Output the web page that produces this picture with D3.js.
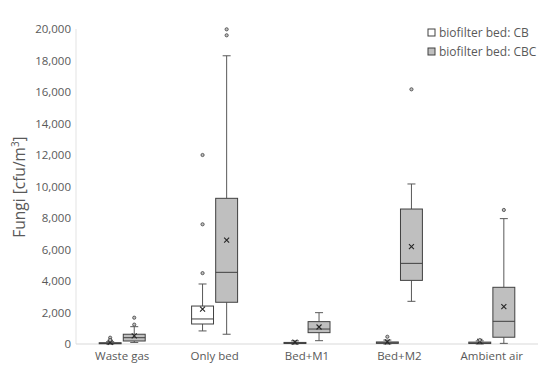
<!DOCTYPE html>
<html lang="en">
<head>
<meta charset="utf-8">
<title>Fungi</title>
<script src="https://d3js.org/d3.v7.min.js"></script>
<style>
 body { margin: 0; background: #fff; }
 text { font-family: "Open Sans", sans-serif; fill: #595959; }
</style>
</head>
<body>
<script>
// Categories and series
const categories = ['Waste gas', 'Only bed', 'Bed+M1', 'Bed+M2', 'Ambient air'];
const series = ['biofilter bed: CB', 'biofilter bed: CBC'];
const yTicks = d3.range(0, 20001, 2000);

// CB box stats
const cbMin = [0, 830, 0, 0, 0];
const cbQ1 = [20, 1270, 30, 40, 30];
const cbMed = [50, 1590, 60, 80, 70];
const cbQ3 = [80, 2410, 100, 130, 120];
const cbMax = [150, 3810, 200, 250, 200];
const cbMean = [110, 2220, 120, 130, 160];
const cbOut = [[400, 250], [4500, 7600, 12000], [], [460], [250]];

// CBC box stats
const cbcMin = [100, 620, 210, 2710, 40];
const cbcQ1 = [190, 2650, 720, 4040, 430];
const cbcMed = [400, 4550, 950, 5120, 1440];
const cbcQ3 = [620, 9250, 1420, 8570, 3600];
const cbcMax = [1100, 18300, 1990, 10160, 7960];
const cbcMean = [510, 6600, 1080, 6180, 2370];
const cbcOut = [[1230, 1670], [19600, 19980], [], [16170], [8510]];

const stats = [
  categories.map((c, i) => ({cat: c, min: cbMin[i], q1: cbQ1[i], med: cbMed[i], q3: cbQ3[i], max: cbMax[i], mean: cbMean[i], out: cbOut[i]})),
  categories.map((c, i) => ({cat: c, min: cbcMin[i], q1: cbcQ1[i], med: cbcMed[i], q3: cbcQ3[i], max: cbcMax[i], mean: cbcMean[i], out: cbcOut[i]}))
];
const fills = ['#ffffff', '#bfbfbf'];

const width = 550, height = 375;
const margin = {top: 29, right: 12, bottom: 31, left: 76};

const svg = d3.select('body').append('svg')
  .attr('width', width).attr('height', height);

const x = d3.scaleBand().domain(categories)
  .range([margin.left, width - margin.right]);
const y = d3.scaleLinear().domain([0, 20000])
  .range([height - margin.bottom, margin.top]);

const sub = d3.scaleBand().domain(series).range([-23, 23]).paddingInner(0.09);

// axes lines
svg.append('line')
  .attr('x1', margin.left).attr('x2', margin.left)
  .attr('y1', y(20000)).attr('y2', y(0))
  .attr('stroke', '#e3e3e3');
svg.append('line')
  .attr('x1', margin.left).attr('x2', width - margin.right)
  .attr('y1', y(0)).attr('y2', y(0))
  .attr('stroke', '#d9d9d9');

// y tick labels
svg.selectAll('.ytick').data(yTicks).enter().append('text')
  .attr('x', margin.left - 5)
  .attr('y', d => y(d) + 4)
  .attr('text-anchor', 'end')
  .style('font-size', '11.5px')
  .text(d3.format(','));

// x labels
svg.selectAll('.xlab').data(categories).enter().append('text')
  .attr('x', d => x(d) + x.bandwidth() / 2)
  .attr('y', height - 15)
  .attr('text-anchor', 'middle')
  .style('font-size', '11.5px')
  .text(d => d);

// y title
svg.append('text')
  .attr('transform', 'translate(25,' + 187 + ') rotate(-90)')
  .attr('text-anchor', 'middle')
  .style('font-size', '15.5px')
  .html('Fungi [cfu/m<tspan dy="-6" font-size="10px">3</tspan><tspan dy="6">]</tspan>');

// boxes
stats.forEach(function (s, k) {
  const bw = sub.bandwidth();
  const g = svg.append('g');
  const cx = d => x(d.cat) + x.bandwidth() / 2 + sub(series[k]) + bw / 2;

  // whiskers
  g.selectAll('.wl').data(s).enter().append('line')
    .attr('x1', cx).attr('x2', cx)
    .attr('y1', d => y(d.max)).attr('y2', d => y(d.q3))
    .attr('stroke', '#595959');
  g.selectAll('.wl2').data(s).enter().append('line')
    .attr('x1', cx).attr('x2', cx)
    .attr('y1', d => y(d.q1)).attr('y2', d => y(d.min))
    .attr('stroke', '#595959');
  g.selectAll('.cap1').data(s).enter().append('line')
    .attr('x1', d => cx(d) - 4).attr('x2', d => cx(d) + 4)
    .attr('y1', d => y(d.max)).attr('y2', d => y(d.max))
    .attr('stroke', '#595959');
  g.selectAll('.cap2').data(s).enter().append('line')
    .attr('x1', d => cx(d) - 4).attr('x2', d => cx(d) + 4)
    .attr('y1', d => y(d.min)).attr('y2', d => y(d.min))
    .attr('stroke', '#595959');

  // box
  g.selectAll('.box').data(s).enter().append('rect')
    .attr('x', d => cx(d) - bw / 2)
    .attr('y', d => y(d.q3))
    .attr('width', bw)
    .attr('height', d => Math.max(1, y(d.q1) - y(d.q3)))
    .attr('fill', fills[k])
    .attr('stroke', '#404040');

  // median
  g.selectAll('.med').data(s).enter().append('line')
    .attr('x1', d => cx(d) - bw / 2).attr('x2', d => cx(d) + bw / 2)
    .attr('y1', d => y(d.med)).attr('y2', d => y(d.med))
    .attr('stroke', '#404040');

  // mean marker
  g.selectAll('.mean').data(s).enter().append('path')
    .attr('d', d => {
      const px = cx(d), py = y(d.mean), r = 2.5;
      return 'M' + (px - r) + ',' + (py - r) + 'L' + (px + r) + ',' + (py + r) +
             'M' + (px - r) + ',' + (py + r) + 'L' + (px + r) + ',' + (py - r);
    })
    .attr('stroke', '#262626').attr('stroke-width', 1.1);

  // outliers
  const outs = [];
  s.forEach(d => d.out.forEach(v => outs.push({cat: d.cat, v: v})));
  g.selectAll('.out').data(outs).enter().append('circle')
    .attr('cx', cx).attr('cy', d => y(d.v))
    .attr('r', 1.6)
    .attr('fill', '#bfbfbf')
    .attr('stroke', '#404040').attr('stroke-width', 0.8);
});

// legend
const leg = svg.selectAll('.leg').data(series).enter().append('g')
  .attr('transform', (d, i) => 'translate(428,' + (29 + i * 19) + ')');
leg.append('rect')
  .attr('width', 7).attr('height', 7)
  .attr('fill', (d, i) => fills[i])
  .attr('stroke', '#404040');
leg.append('text')
  .attr('x', 11).attr('y', 8)
  .style('font-size', '12px')
  .text(d => d);
</script>
</body>
</html>
